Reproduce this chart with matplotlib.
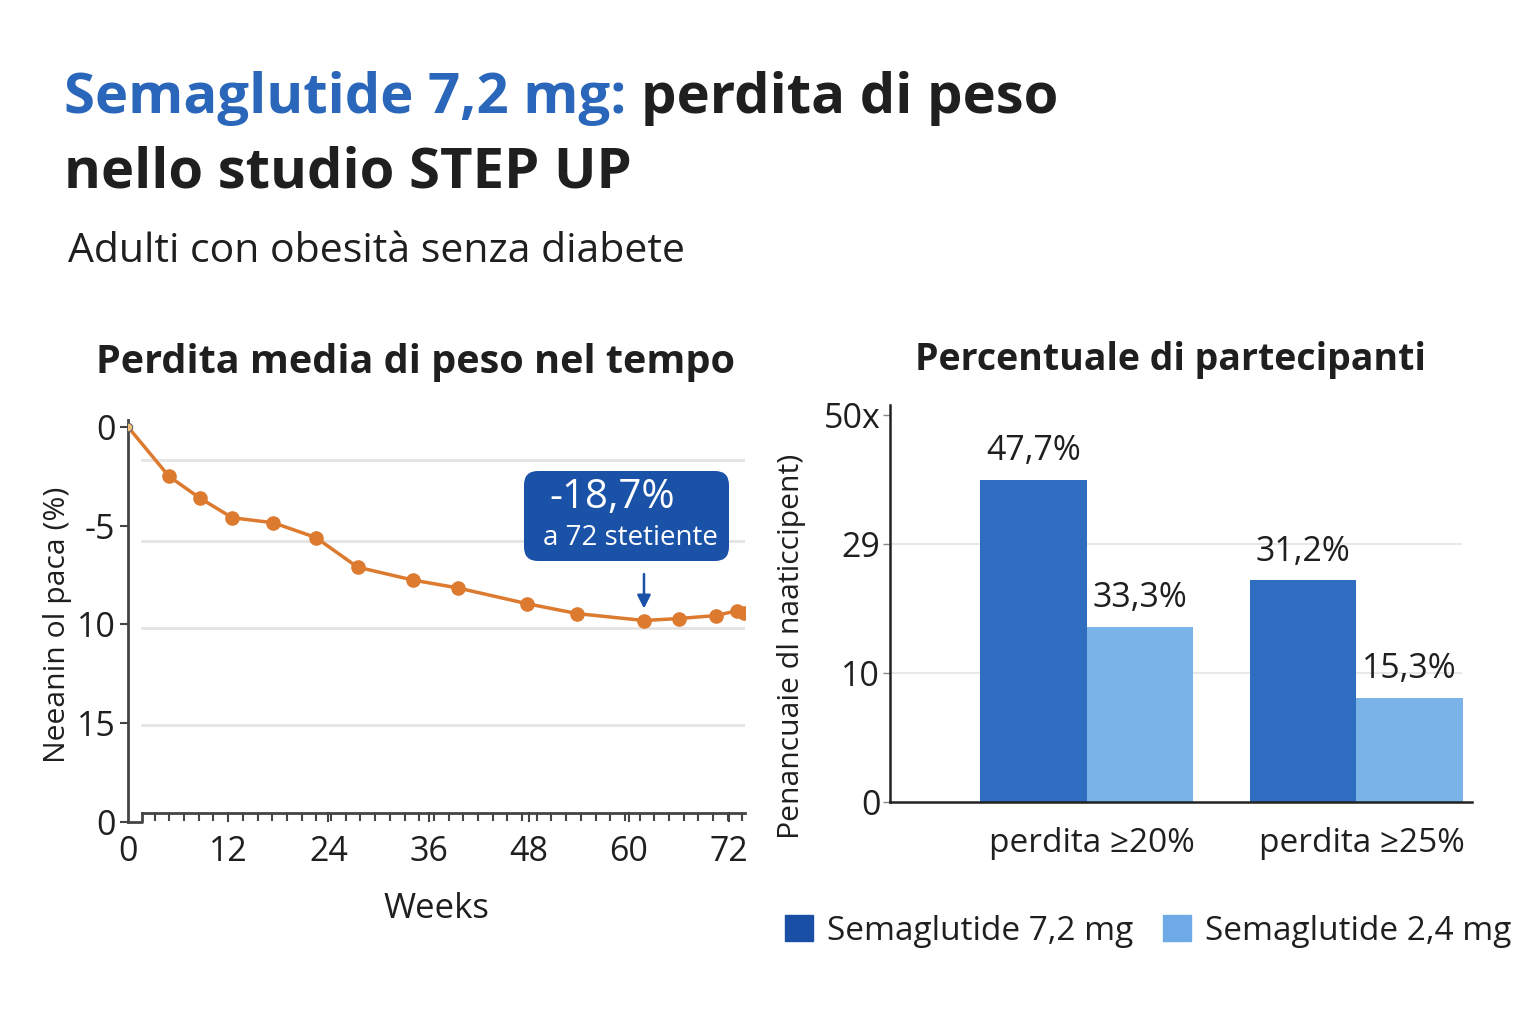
import matplotlib.pyplot as plt
import numpy as np
from matplotlib.patches import FancyBboxPatch, Patch

# --- data ---
weeks = [0, 4.9, 8.6, 12.5, 17.4, 22.5, 27.5, 34.1, 39.5, 47.8, 53.8, 61.8, 66.0, 70.4, 73.0, 73.8]
loss = [0, -2.5, -3.6, -4.6, -4.85, -5.6, -7.1, -7.75, -8.15, -8.95, -9.45, -9.8, -9.7, -9.55, -9.3, -9.4]
y_ticks = [0, -5, -10, -15, -20]
y_ticklabels = ["0", "-5", "10", "15", "0"]
x_ticks = [0, 12, 24, 36, 48, 60, 72]
left_grid = [-1.67, -5.77, -10.18, -15.09]

groups = ["perdita ≥20%", "perdita ≥25%"]
high_dose = [25.0, 17.2]     # bar heights in axis units
low_dose = [13.6, 8.1]
high_labels = ["47,7%", "31,2%"]
low_labels = ["33,3%", "15,3%"]
r_ticks = [0, 10, 20, 30]
r_ticklabels = ["0", "10", "29", "50x"]

DARK = "#2f6dc0"
LIGHT = "#79b3e8"
ORANGE = "#dc7a30"
NAVY = "#1a52a8"
TXT = "#1f1f1f"

plt.rcParams['font.family'] = ['Open Sans', 'DejaVu Sans']

fig = plt.figure(figsize=(15.36, 10.24), dpi=100)
fig.patch.set_facecolor('white')
W, H = 1536, 1024

def fx(px):
    return px / W

def fy(py):
    return 1 - py / H

# titles
renderer = fig.canvas.get_renderer()
t1 = fig.text(fx(64), fy(113), "Semaglutide 7,2 mg:", color="#2a66b9", fontsize=40.5,
              fontweight='bold', va='baseline', ha='left')
bb = t1.get_window_extent(renderer)
fig.text(bb.x1 / W + fx(15), fy(113), "perdita di peso", color=TXT, fontsize=40.5,
         fontweight='bold', va='baseline', ha='left')
fig.text(fx(64), fy(188), "nello studio STEP UP", color=TXT, fontsize=40.5,
         fontweight='bold', va='baseline', ha='left')
fig.text(fx(68), fy(262), "Adulti con obesità senza diabete", color=TXT, fontsize=29.5,
         va='baseline', ha='left')

fig.text(fx(416), fy(362), "Perdita media di peso nel tempo", color=TXT, fontsize=28.5,
         fontweight='bold', ha='center', va='center')
fig.text(fx(1170), fy(360), "Percentuale di partecipanti", color=TXT, fontsize=27,
         fontweight='bold', ha='center', va='center')

# ---------- left: line chart ----------
ax = fig.add_axes([fx(128), fy(822), fx(745) - fx(128), fy(420) - fy(822)])
ax.set_xlim(0, 73.9)
ax.set_ylim(-20, 0.35)
for g in left_grid:
    ax.plot([1.7, 73.9], [g, g], color="#e4e4e4", lw=2, zorder=0)

ax.plot(weeks, loss, color=ORANGE, lw=2.5, zorder=3)
ax.plot(weeks[1:], loss[1:], 'o', color=ORANGE, ms=9.5, zorder=4)
ax.plot(weeks[0], loss[0], 'o', color="#f3c27a", mec="#666666", mew=0.8, ms=6, zorder=5)

for s in ['top', 'right']:
    ax.spines[s].set_visible(False)
ax.spines['left'].set_color("#444444")
ax.spines['left'].set_linewidth(2)
ax.spines['bottom'].set_position(('data', -19.55))
ax.spines['bottom'].set_bounds(1.7, 73.9)
ax.spines['bottom'].set_color("#444444")
ax.spines['bottom'].set_linewidth(2)
ax.plot([0, 1.7, 1.7], [-20, -20, -19.55], color="#444444", lw=2, clip_on=False)

ax.set_yticks(y_ticks)
ax.set_yticklabels(y_ticklabels, fontsize=24.5, color=TXT)
ax.tick_params(axis='y', length=6, width=1.5, color="#444444", pad=3)
ax.set_xticks(x_ticks)
ax.set_xticklabels(x_ticks, fontsize=24.5, color=TXT)
ax.set_xticks(np.arange(3.2, 74, 1.76), minor=True)
ax.tick_params(axis='x', which='major', length=0, pad=16)
ax.tick_params(axis='x', which='minor', length=6, width=1.5, color="#444444")
for xt in x_ticks[1:]:
    ax.plot([xt, xt], [-19.55, -19.95], color="#444444", lw=1.5, clip_on=False)
ax.set_xlabel("Weeks", fontsize=25, color=TXT, labelpad=16)
ax.set_ylabel("Neeanin ol paca (%)", fontsize=21.7, color=TXT)
ax.yaxis.set_label_coords(-0.09, 0.49)

# callout
box = FancyBboxPatch((524, H - 561), 205, 90, boxstyle="round,pad=0,rounding_size=14",
                     facecolor=NAVY, edgecolor='none', transform=None, zorder=6)
fig.patches.append(box)
fig.text(fx(612), fy(498), "-18,7%", color='white', fontsize=29, ha='center', va='center', zorder=7)
fig.text(fx(630), fy(538), "a 72 stetiente", color='white', fontsize=20, ha='center', va='center', zorder=7)
ax.annotate("", xy=(61.8, -9.2), xytext=(61.8, -7.45),
            arrowprops=dict(arrowstyle='-|>', color=NAVY, lw=1.8, mutation_scale=20,
                            shrinkA=0, shrinkB=0))

# ---------- right: bar chart ----------
bx = fig.add_axes([fx(890), fy(802), fx(1472) - fx(890), fy(405) - fy(802)])
x = np.arange(len(groups))
bw = 0.395
bx.set_xlim(-0.73, 1.43)
bx.set_ylim(0, 30.8)
for g in r_ticks[1:3]:
    bx.plot([-0.73, 1.39], [g, g], color="#e8e8e8", lw=1.5, zorder=0)
b1 = bx.bar(x - bw / 2, high_dose, bw, color=DARK, zorder=2)
b2 = bx.bar(x + bw / 2, low_dose, bw, color=LIGHT, zorder=2)
for rect, lab in zip(b1, high_labels):
    bx.text(rect.get_x() + rect.get_width() / 2, rect.get_height() + 0.9, lab,
            ha='center', va='bottom', fontsize=24.4, color=TXT)
for rect, lab in zip(b2, low_labels):
    bx.text(rect.get_x() + rect.get_width() / 2, rect.get_height() + 0.9, lab,
            ha='center', va='bottom', fontsize=24.4, color=TXT)

for s in ['top', 'right']:
    bx.spines[s].set_visible(False)
bx.spines['left'].set_color("#222222")
bx.spines['left'].set_linewidth(1.8)
bx.spines['bottom'].set_color("#222222")
bx.spines['bottom'].set_linewidth(1.8)
bx.set_yticks(r_ticks)
bx.set_yticklabels(r_ticklabels, fontsize=24.5, color=TXT)
bx.tick_params(axis='y', length=5, width=1, color="#888888", pad=2)
bx.set_xticks(x + 0.02)
bx.set_xticklabels(groups, fontsize=24, color=TXT)
bx.tick_params(axis='x', length=0, pad=18)
bx.set_ylabel("Penancuaie dl naaticcipent)", fontsize=21.7, color=TXT)
bx.yaxis.set_label_coords(-0.144, 0.393)

fig.legend(handles=[Patch(color="#1a4fa6", label="Semaglutide 7,2 mg"),
                    Patch(color="#6eabe6", label="Semaglutide 2,4 mg")],
           loc='center', bbox_to_anchor=(fx(1148), fy(931)), ncol=2, frameon=False,
           fontsize=24, handlelength=0.85, handleheight=0.85, handletextpad=0.4,
           columnspacing=0.9, labelcolor=TXT)

fig.savefig("out.png", dpi=100)
